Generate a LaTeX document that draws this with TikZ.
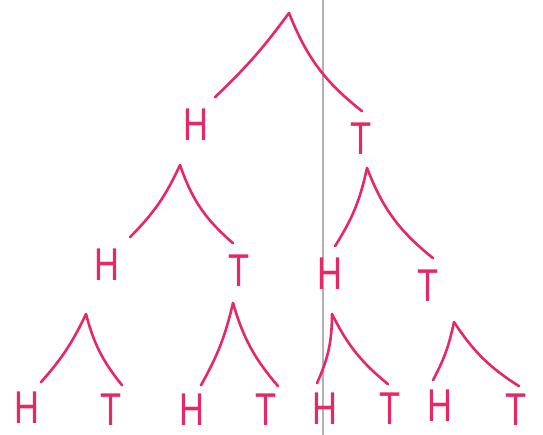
\documentclass[tikz,border=0pt]{standalone}
\usepackage{fontspec}
\setmainfont{Liberation Sans}
\definecolor{ink}{RGB}{230,40,100}
\tikzset{
  flip/.style={font=\fontsize{46}{46}\selectfont, text=ink, inner sep=0pt, outer sep=0pt, xscale=0.75},
  branch/.style={draw=ink, line width=2.6pt, line cap=round},
}
\begin{document}
\begin{tikzpicture}[x=1pt, y=1pt]
    \useasboundingbox (0,0) rectangle (543,435);
    % scanner line
    \draw[gray!60, line width=1.2pt] (323,0) -- (323,435);

    % forks
    \coordinate (top) at (289,422);
    \coordinate (h-fork) at (180,270);
    \coordinate (t-fork) at (367,267);
    \coordinate (hh-fork) at (86,121);
    \coordinate (ht-fork) at (233,132);
    \coordinate (th-fork) at (332,121);
    \coordinate (tt-fork) at (454,113);

    % first toss
    \node[flip] (h) at (196,310) {H};
    \node[flip] (t) at (361,296) {T};
    % second toss
    \node[flip] (hh) at (107,170) {H};
    \node[flip] (ht) at (239,164) {T};
    \node[flip] (th) at (330,161) {H};
    \node[flip] (tt) at (428,149) {T};
    % third toss
    \node[flip] (hhh) at (27,27) {H};
    \node[flip] (hht) at (111,25) {T};
    \node[flip] (hth) at (192,25) {H};
    \node[flip] (htt) at (266,25) {T};
    \node[flip] (thh) at (325,26) {H};
    \node[flip] (tht) at (390,26) {T};
    \node[flip] (tth) at (440,29) {H};
    \node[flip] (ttt) at (516,25) {T};

    \draw[branch] (top) to[bend left=5] ([shift={(19pt,12pt)}]h.north);
    \draw[branch] (top) to[bend right=15] ([shift={(1pt,12pt)}]t.north);
    \draw[branch] (h-fork) to[bend left=10] ([shift={(23pt,12pt)}]hh.north);
    \draw[branch] (h-fork) to[bend right=15] ([shift={(-6pt,12pt)}]ht.north);
    \draw[branch] (t-fork) to[bend left=10] ([shift={(5pt,12pt)}]th.north);
    \draw[branch] (t-fork) to[bend right=15] ([shift={(5pt,12pt)}]tt.north);
    \draw[branch] (hh-fork) to[bend left=8] ([shift={(14pt,10pt)}]hhh.north);
    \draw[branch] (hh-fork) to[bend right=12] ([shift={(11pt,9pt)}]hht.north);
    \draw[branch] (ht-fork) to[bend left=8] ([shift={(9pt,9pt)}]hth.north);
    \draw[branch] (ht-fork) to[bend right=12] ([shift={(12pt,8pt)}]htt.north);
    \draw[branch] (th-fork) to[bend left=12] ([shift={(-8pt,10pt)}]thh.north);
    \draw[branch] (th-fork) to[bend right=12] ([shift={(-2pt,9pt)}]tht.north);
    \draw[branch] (tt-fork) to[bend left=8] ([shift={(-7pt,10pt)}]tth.north);
    \draw[branch] (tt-fork) to[bend right=12] ([shift={(3pt,8pt)}]ttt.north);
\end{tikzpicture}
\end{document}
